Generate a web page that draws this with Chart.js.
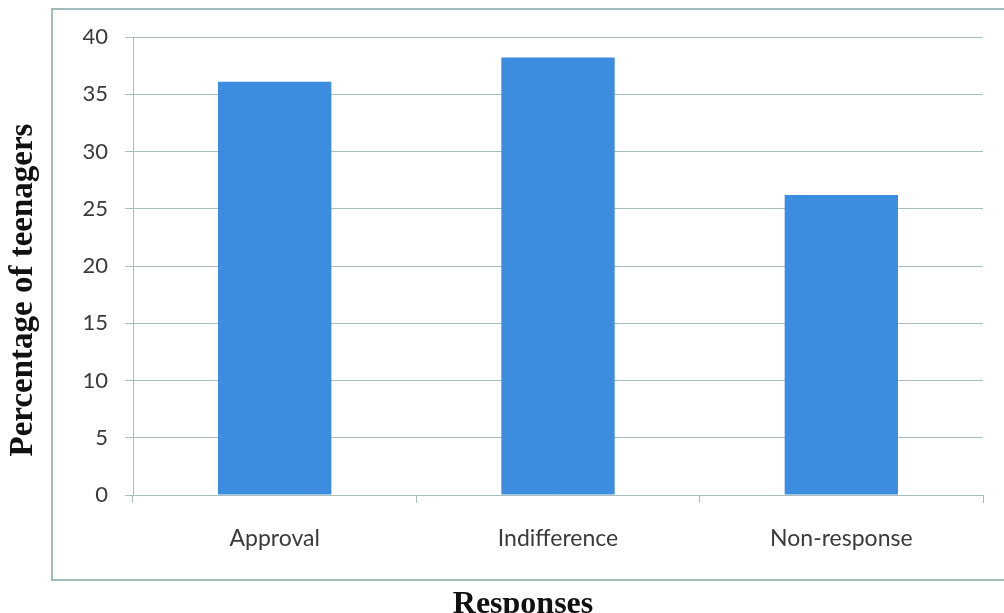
<!DOCTYPE html>
<html>
<head>
<meta charset="utf-8">
<script src="https://cdn.jsdelivr.net/npm/chart.js@4/dist/chart.umd.min.js"></script>
<style>
  html, body { margin: 0; padding: 0; background: #fff; }
  #wrap { position: relative; width: 1004px; height: 613px; }
</style>
</head>
<body>
<div id="wrap"><canvas id="myChart" width="1004" height="613"></canvas></div>
<script>
const categories = ['Approval', 'Indifference', 'Non-response'];
const percentages = [36.1, 38.2, 26.2];
const yTicks = [0, 5, 10, 15, 20, 25, 30, 35, 40];

const yTitle = 'Percentage of teenagers';
const xTitle = 'Responses';

const gridColor = '#a9bdbf';

// outer frame and the two axis titles (drawn outside the frame like the original)
const decorations = {
    id: 'decorations',
    beforeDraw(chart) {
        const c = chart.ctx;
        c.save();
        c.fillStyle = '#ffffff';
        c.fillRect(0, 0, chart.width, chart.height);
        c.strokeStyle = '#a2bcbe';
        c.lineWidth = 2;
        c.strokeRect(52, 9, 960, 571);
        c.restore();
    },
    afterDraw(chart) {
        const c = chart.ctx;
        c.save();
        c.fillStyle = '#111111';
        c.textAlign = 'center';
        c.textBaseline = 'alphabetic';
        c.font = 'bold 32px "Liberation Serif", "DejaVu Serif", serif';
        c.fillText(xTitle, 523, 613);
        c.font = 'bold 33px "Liberation Serif", "DejaVu Serif", serif';
        c.translate(32, 290);
        c.rotate(-Math.PI / 2);
        c.fillText(yTitle, 0, 0);
        c.restore();
    }
};

const ctx = document.getElementById('myChart').getContext('2d');

const myChart = new Chart(ctx, {
    type: 'bar',
    data: {
        labels: categories,
        datasets: [{
            data: percentages,
            backgroundColor: '#3c8de0',
            borderWidth: 0,
            barPercentage: 0.4,
            categoryPercentage: 1.0
        }]
    },
    options: {
        responsive: false,
        animation: false,
        layout: {
            padding: {left: 0, top: 37, right: 21, bottom: 0}
        },
        plugins: {
            legend: {display: false},
            tooltip: {enabled: false}
        },
        scales: {
            x: {
                afterFit(scale) { scale.height = 118; },
                grid: {
                    drawOnChartArea: false,
                    drawTicks: true,
                    tickLength: 8,
                    color: gridColor
                },
                border: {color: gridColor, width: 1},
                ticks: {
                    color: '#3a3a3a',
                    padding: 22,
                    font: {family: 'Lato, "Open Sans", sans-serif', size: 23}
                }
            },
            y: {
                min: 0,
                max: 40,
                afterFit(scale) { scale.width = 133; },
                afterBuildTicks(scale) {
                    scale.ticks = yTicks.map(v => ({value: v}));
                },
                grid: {
                    color: gridColor,
                    tickLength: 8
                },
                border: {color: gridColor, width: 1},
                ticks: {
                    color: '#3a3a3a',
                    padding: 17,
                    font: {family: 'Lato, "Open Sans", sans-serif', size: 22}
                }
            }
        }
    },
    plugins: [decorations]
});
</script>
</body>
</html>
